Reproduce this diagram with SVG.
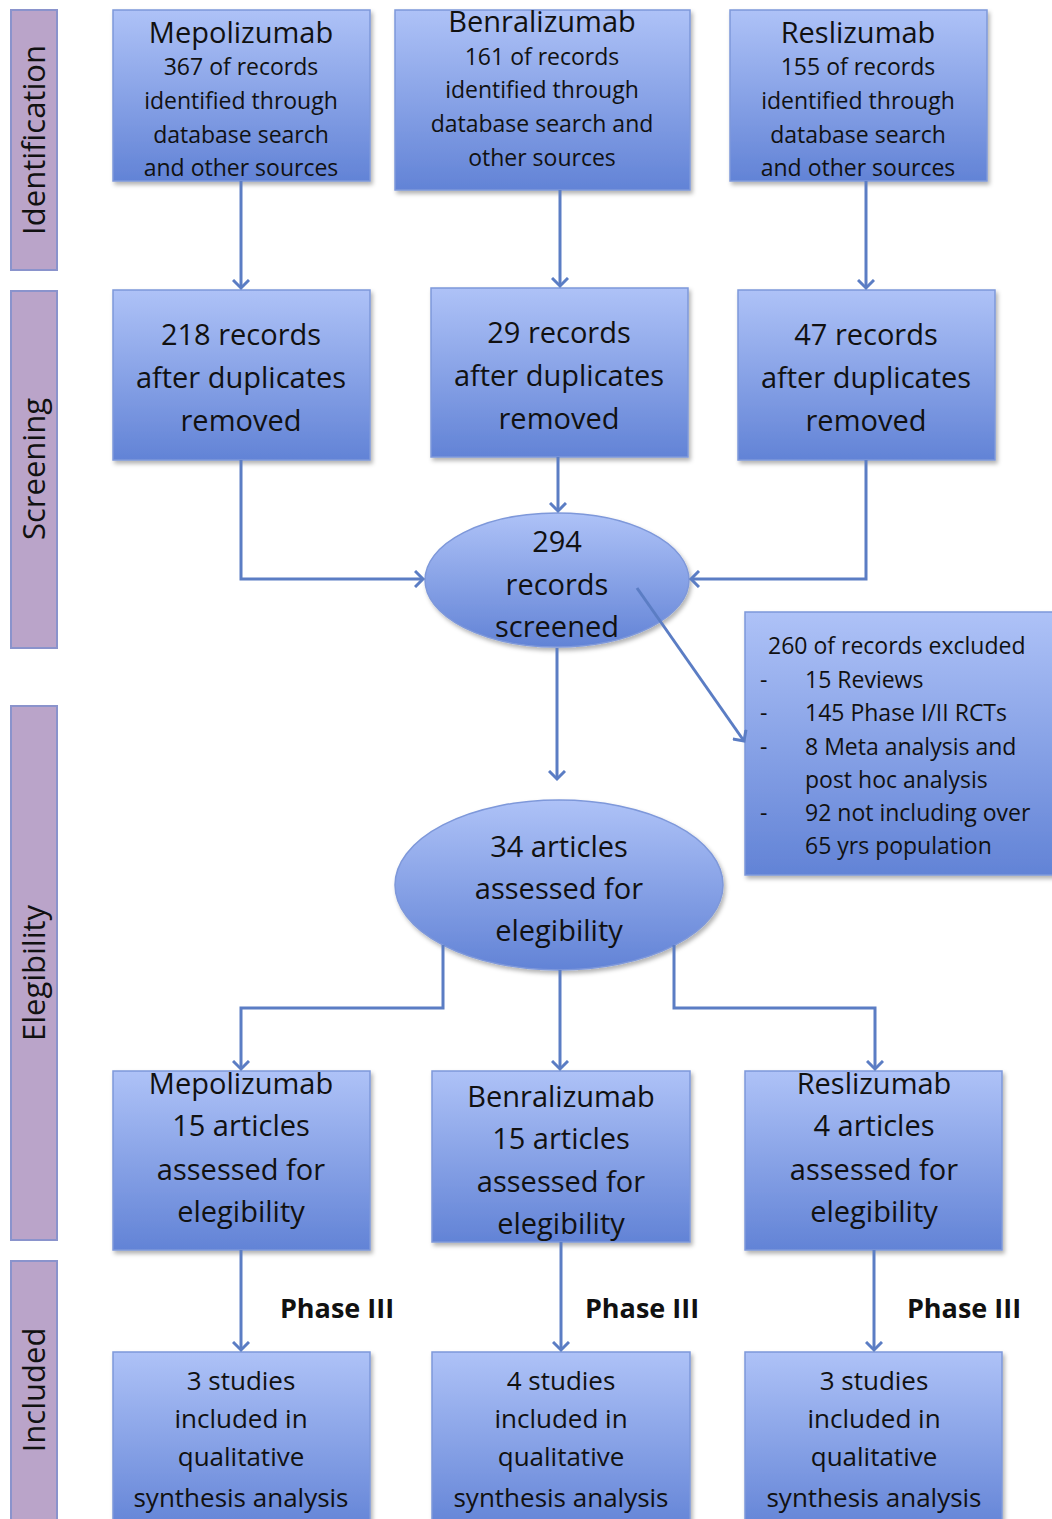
<svg xmlns="http://www.w3.org/2000/svg" width="1052" height="1519" viewBox="0 0 1052 1519">
<defs>
<linearGradient id="g" x1="0" y1="0" x2="0" y2="1">
<stop offset="0" stop-color="#aec2f7"/>
<stop offset="1" stop-color="#6283d6"/>
</linearGradient>
<filter id="sh" x="-5%" y="-5%" width="115%" height="115%">
<feDropShadow dx="2" dy="3" stdDeviation="2" flood-color="#000" flood-opacity="0.3"/>
</filter>
<marker id="ar" markerWidth="18" markerHeight="18" refX="9" refY="9" orient="auto" markerUnits="userSpaceOnUse">
<path d="M1,1 L9,9 L1,17" fill="none" stroke="#5b7dc4" stroke-width="3"/>
</marker>
<style>
.n{fill:url(#g);stroke:#7e98da;stroke-width:1.5;filter:url(#sh)}
.side{fill:#baa4c9;stroke:#8a93cc;stroke-width:2}
.ca{fill:none;stroke:#5b7dc4;stroke-width:3;marker-end:url(#ar)}
text{font-family:"Open Sans",Lato,"Liberation Sans",sans-serif;fill:#111;text-anchor:middle;font-weight:500}
.t30{font-size:29px}
.t24{font-size:23px}
.t26{font-size:26px}
.sl{font-size:31px}
.ph{font-size:27px;font-weight:bold}
.ex{font-size:23px;text-anchor:start}
</style>
</defs>
<rect width="1052" height="1519" fill="#fff"/>
<g id="sidebars">
<rect class="side" x="11" y="10" width="46" height="260"/>
<text class="sl" transform="translate(45,140) rotate(-90)">Identification</text>
<rect class="side" x="11" y="291" width="46" height="357"/>
<text class="sl" transform="translate(45,469) rotate(-90)">Screening</text>
<rect class="side" x="11" y="706" width="46" height="534"/>
<text class="sl" transform="translate(45,973) rotate(-90)">Elegibility</text>
<rect class="side" x="11" y="1261" width="46" height="270"/>
<text class="sl" transform="translate(45,1390) rotate(-90)">Included</text>
</g>
<g id="n1">
<rect class="n" x="113" y="10" width="257" height="171"/>
<text class="t30" x="241" y="43">Mepolizumab</text>
<text class="t24" x="241" y="75">367 of records</text>
<text class="t24" x="241" y="109">identified through</text>
<text class="t24" x="241" y="143">database search</text>
<text class="t24" x="241" y="176">and other sources</text>
</g>
<g id="n2">
<rect class="n" x="395" y="10" width="295" height="180"/>
<text class="t30" x="542" y="32">Benralizumab</text>
<text class="t24" x="542" y="65">161 of records</text>
<text class="t24" x="542" y="98">identified through</text>
<text class="t24" x="542" y="132">database search and</text>
<text class="t24" x="542" y="166">other sources</text>
</g>
<g id="n3">
<rect class="n" x="730" y="10" width="257" height="171"/>
<text class="t30" x="858" y="43">Reslizumab</text>
<text class="t24" x="858" y="75">155 of records</text>
<text class="t24" x="858" y="109">identified through</text>
<text class="t24" x="858" y="143">database search</text>
<text class="t24" x="858" y="176">and other sources</text>
</g>
<g id="n4">
<rect class="n" x="113" y="290" width="257" height="170"/>
<text class="t30" x="241" y="345">218 records</text>
<text class="t30" x="241" y="388">after duplicates</text>
<text class="t30" x="241" y="431">removed</text>
</g>
<g id="n5">
<rect class="n" x="431" y="288" width="257" height="169"/>
<text class="t30" x="559" y="343">29 records</text>
<text class="t30" x="559" y="386">after duplicates</text>
<text class="t30" x="559" y="429">removed</text>
</g>
<g id="n6">
<rect class="n" x="738" y="290" width="257" height="170"/>
<text class="t30" x="866" y="345">47 records</text>
<text class="t30" x="866" y="388">after duplicates</text>
<text class="t30" x="866" y="431">removed</text>
</g>
<g id="n7">
<ellipse class="n" cx="557" cy="580" rx="132" ry="67"/>
<text class="t30" x="557" y="552">294</text>
<text class="t30" x="557" y="595">records</text>
<text class="t30" x="557" y="637">screened</text>
</g>
<g id="n8">
<rect class="n" x="745" y="612" width="310" height="263"/>
<text class="ex" x="768" y="654">260 of records excluded</text>
<text class="ex" x="760" y="688">-</text><text class="ex" x="805" y="688">15 Reviews</text>
<text class="ex" x="760" y="721">-</text><text class="ex" x="805" y="721">145 Phase I/II RCTs</text>
<text class="ex" x="760" y="755">-</text><text class="ex" x="805" y="755">8 Meta analysis and</text>
<text class="ex" x="805" y="788">post hoc analysis</text>
<text class="ex" x="760" y="821">-</text><text class="ex" x="805" y="821">92 not including over</text>
<text class="ex" x="805" y="854">65 yrs population</text>
</g>
<g id="n9">
<ellipse class="n" cx="559" cy="885" rx="164" ry="85"/>
<text class="t30" x="559" y="857">34 articles</text>
<text class="t30" x="559" y="899">assessed for</text>
<text class="t30" x="559" y="941">elegibility</text>
</g>
<g id="n10">
<rect class="n" x="113" y="1071" width="257" height="179"/>
<text class="t30" x="241" y="1094">Mepolizumab</text>
<text class="t30" x="241" y="1136">15 articles</text>
<text class="t30" x="241" y="1180">assessed for</text>
<text class="t30" x="241" y="1222">elegibility</text>
</g>
<g id="n11">
<rect class="n" x="432" y="1071" width="258" height="171"/>
<text class="t30" x="561" y="1107">Benralizumab</text>
<text class="t30" x="561" y="1149">15 articles</text>
<text class="t30" x="561" y="1192">assessed for</text>
<text class="t30" x="561" y="1234">elegibility</text>
</g>
<g id="n12">
<rect class="n" x="745" y="1071" width="257" height="179"/>
<text class="t30" x="874" y="1094">Reslizumab</text>
<text class="t30" x="874" y="1136">4 articles</text>
<text class="t30" x="874" y="1180">assessed for</text>
<text class="t30" x="874" y="1222">elegibility</text>
</g>
<g id="labels">
<text class="ph" x="337" y="1318">Phase III</text>
<text class="ph" x="642" y="1318">Phase III</text>
<text class="ph" x="964" y="1318">Phase III</text>
</g>
<g id="n13">
<rect class="n" x="113" y="1352" width="257" height="180"/>
<text class="t26" x="241" y="1390">3 studies</text>
<text class="t26" x="241" y="1428">included in</text>
<text class="t26" x="241" y="1466">qualitative</text>
<text class="t26" x="241" y="1507">synthesis analysis</text>
</g>
<g id="n14">
<rect class="n" x="432" y="1352" width="258" height="180"/>
<text class="t26" x="561" y="1390">4 studies</text>
<text class="t26" x="561" y="1428">included in</text>
<text class="t26" x="561" y="1466">qualitative</text>
<text class="t26" x="561" y="1507">synthesis analysis</text>
</g>
<g id="n15">
<rect class="n" x="745" y="1352" width="257" height="180"/>
<text class="t26" x="874" y="1390">3 studies</text>
<text class="t26" x="874" y="1428">included in</text>
<text class="t26" x="874" y="1466">qualitative</text>
<text class="t26" x="874" y="1507">synthesis analysis</text>
</g>
<g id="connectors">
<path class="ca" d="M241,181 V288"/>
<path class="ca" d="M560,190 V286"/>
<path class="ca" d="M866,181 V288"/>
<path class="ca" d="M241,460 V579 H423"/>
<path class="ca" d="M558,457 V511"/>
<path class="ca" d="M866,460 V579 H691"/>
<path class="ca" d="M637,588 L744,741"/>
<path class="ca" d="M557,648 V779"/>
<path class="ca" d="M443,945 V1008 H241 V1069"/>
<path class="ca" d="M560,970 V1069"/>
<path class="ca" d="M674,945 V1008 H875 V1069"/>
<path class="ca" d="M241,1250 V1350"/>
<path class="ca" d="M561,1242 V1350"/>
<path class="ca" d="M874,1250 V1350"/>
</g>
</svg>
